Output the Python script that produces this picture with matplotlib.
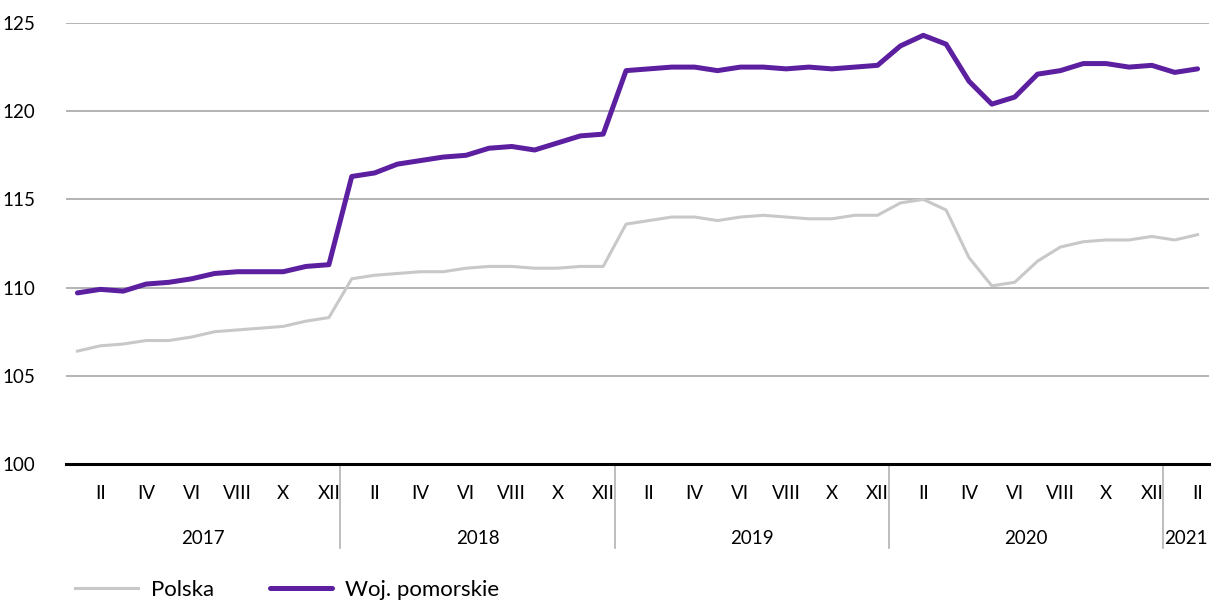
import matplotlib
matplotlib.use('Agg')
import matplotlib.pyplot as plt
import matplotlib.transforms as mtransforms
import numpy as np

plt.rcParams['font.family'] = ['Lato', 'DejaVu Sans']

# monthly index, Jan 2017 - Feb 2021
polska = [106.4, 106.7, 106.8, 107.0, 107.0, 107.2, 107.5, 107.6, 107.7, 107.8, 108.1, 108.3,
          110.5, 110.7, 110.8, 110.9, 110.9, 111.1, 111.2, 111.2, 111.1, 111.1, 111.2, 111.2,
          113.6, 113.8, 114.0, 114.0, 113.8, 114.0, 114.1, 114.0, 113.9, 113.9, 114.1, 114.1,
          114.8, 115.0, 114.4, 111.7, 110.1, 110.3, 111.5, 112.3, 112.6, 112.7, 112.7, 112.9,
          112.7, 113.0]
pomorskie = [109.7, 109.9, 109.8, 110.2, 110.3, 110.5, 110.8, 110.9, 110.9, 110.9, 111.2, 111.3,
             116.3, 116.5, 117.0, 117.2, 117.4, 117.5, 117.9, 118.0, 117.8, 118.2, 118.6, 118.7,
             122.3, 122.4, 122.5, 122.5, 122.3, 122.5, 122.5, 122.4, 122.5, 122.4, 122.5, 122.6,
             123.7, 124.3, 123.8, 121.7, 120.4, 120.8, 122.1, 122.3, 122.7, 122.7, 122.5, 122.6,
             122.2, 122.4]
months = ['I', 'II', 'III', 'IV', 'V', 'VI', 'VII', 'VIII', 'IX', 'X', 'XI', 'XII']
years = ['2017', '2018', '2019', '2020', '2021']

n = len(polska)
x = np.arange(n)
fs = 13.5

fig = plt.figure(figsize=(12.15, 6.03), dpi=100)
ax = fig.add_axes([66/1215, 1-464/603, 1143/1215, 441/603])

for v in [105, 110, 115, 120, 125]:
    ax.axhline(v, color='#b3b3b3', lw=1.4, zorder=1)
ax.axhline(100, color='black', lw=2.2, zorder=3, clip_on=False)

ax.plot(x, polska, color='#c8c8c8', lw=2.2, label='Polska', zorder=4)
ax.plot(x, pomorskie, color='#5b1fa0', lw=3.6, label='Woj. pomorskie', zorder=5,
        solid_capstyle='round')

ax.set_xlim(-0.5, n - 0.5)
ax.set_ylim(100, 125)
ax.set_yticks([100, 105, 110, 115, 120, 125])
ax.tick_params(axis='y', length=0, pad=22, labelsize=fs)

ticks = [i for i in range(n) if i % 2 == 1]
ax.set_xticks(ticks)
ax.set_xticklabels([months[i % 12] for i in ticks])
ax.tick_params(axis='x', length=0, pad=15, labelsize=fs)

for s in ax.spines.values():
    s.set_visible(False)

trans = mtransforms.blended_transform_factory(ax.transData, ax.transAxes)
for k in range(1, len(years)):
    xs = 12 * k - 0.5
    ax.plot([xs, xs], [0, -0.19], color='#b3b3b3', lw=1.2, transform=trans, clip_on=False)
for k, yr in enumerate(years):
    start = 12 * k
    end = min(12 * k + 11, n - 1)
    ax.text((start + end) / 2, -0.168, yr, transform=trans, ha='center', va='center', fontsize=fs)

fig.legend(loc='center left', bbox_to_anchor=(0.062, 0.022), ncol=2, frameon=False,
           borderaxespad=0, borderpad=0, fontsize=16, handlelength=2.8,
           columnspacing=2.5, handletextpad=0.6)

fig.savefig('out.png', dpi=100)
